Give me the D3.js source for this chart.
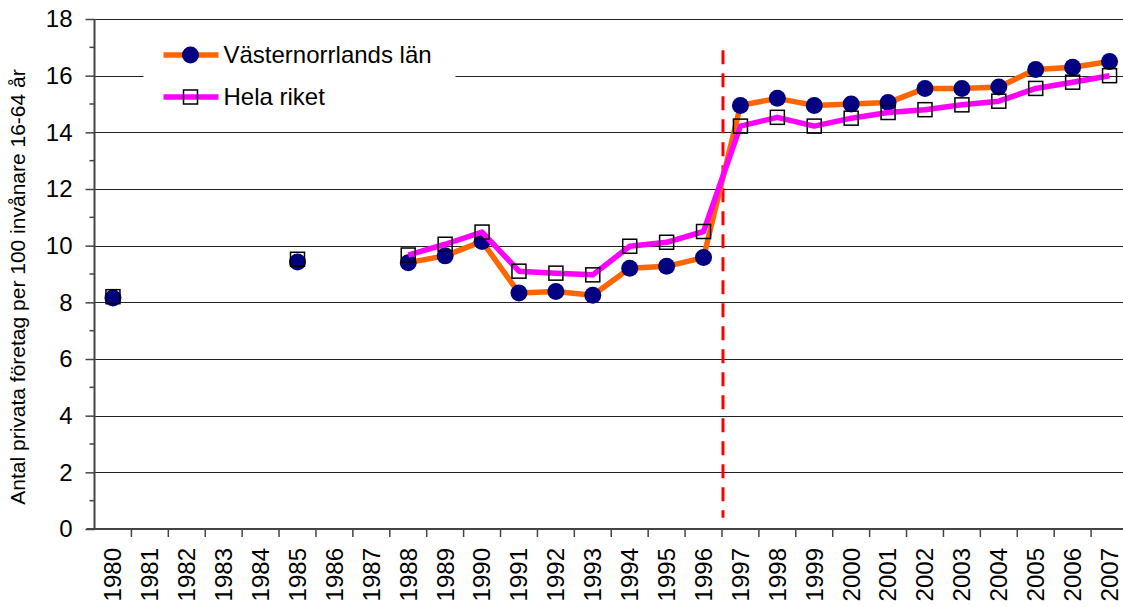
<!DOCTYPE html>
<html>
<head>
<meta charset="utf-8">
<script src="https://cdn.jsdelivr.net/npm/d3@7"></script>
<style>
  body { margin: 0; background: #fff; overflow: hidden; }
  text { font-family: Arial, "Liberation Sans", sans-serif; fill: #000; }
</style>
</head>
<body>
<div id="wrapper"></div>
<script>
// data
const years = ["1980","1981","1982","1983","1984","1985","1986","1987","1988","1989",
  "1990","1991","1992","1993","1994","1995","1996","1997","1998","1999",
  "2000","2001","2002","2003","2004","2005","2006","2007"]

const vasternorrland = [8.15, null, null, null, null, 9.42, null, null, 9.4, 9.64,
  10.15, 8.33, 8.38, 8.25, 9.2, 9.27, 9.58, 14.95, 15.2, 14.95,
  15.0, 15.05, 15.55, 15.55, 15.6, 16.22, 16.3, 16.5]

const helaRiket = [8.2, null, null, null, null, 9.52, null, null, 9.67, 10.05,
  10.48, 9.1, 9.03, 8.97, 9.98, 10.12, 10.5, 14.22, 14.53, 14.22,
  14.5, 14.7, 14.8, 14.97, 15.1, 15.55, 15.77, 16.0]

const yTicks = [0, 2, 4, 6, 8, 10, 12, 14, 16, 18]
const yMinorTicks = [1, 3, 5, 7, 9, 11, 13, 15, 17]
const seriesNames = ["Västernorrlands län", "Hela riket"]
const yTitle = "Antal privata företag per 100 invånare 16-64 år"
const breakBetween = ["1996", "1997"]
const breakRange = [0.4, 16.9]

// dimensions
// the plot area runs a little past the right edge of the picture (cropped)
let dimensions = {
  width: 1123,
  height: 607,
  margin: { top: 19, right: -5, bottom: 78, left: 94.5 },
}
dimensions.boundedWidth = dimensions.width - dimensions.margin.left - dimensions.margin.right
dimensions.boundedHeight = dimensions.height - dimensions.margin.top - dimensions.margin.bottom

const wrapper = d3.select("#wrapper")
  .append("svg")
    .attr("width", dimensions.width)
    .attr("height", dimensions.height)

const bounds = wrapper.append("g")
    .attr("transform", `translate(${dimensions.margin.left},${dimensions.margin.top})`)

// scales
const xScale = d3.scaleBand()
  .domain(years)
  .range([0, dimensions.boundedWidth])
  .padding(0)

const yScale = d3.scaleLinear()
  .domain([0, 18])
  .range([dimensions.boundedHeight, 0])

const xCenter = i => xScale(years[i]) + xScale.bandwidth() / 2

// gridlines
bounds.append("g")
  .selectAll("line")
  .data(yTicks.filter(d => d > 0))
  .join("line")
    .attr("x1", 0)
    .attr("x2", dimensions.boundedWidth)
    .attr("y1", d => Math.round(yScale(d)) + 0.5)
    .attr("y2", d => Math.round(yScale(d)) + 0.5)
    .attr("stroke", "#222")
    .attr("stroke-width", 1)

// legend background (covers gridline)
const legend = bounds.append("g")
legend.append("rect")
  .attr("x", 49)
  .attr("y", 14)
  .attr("width", 312)
  .attr("height", 90)
  .attr("fill", "#fff")

// break line
bounds.append("line")
  .attr("x1", xScale(breakBetween[1]) + 1)
  .attr("x2", xScale(breakBetween[1]) + 1)
  .attr("y1", yScale(breakRange[1]))
  .attr("y2", yScale(breakRange[0]))
  .attr("stroke", "#ff0000")
  .attr("stroke-width", 3)
  .attr("stroke-dasharray", "14,9")

// series
const lineGen = values => d3.line()
  .defined(d => d != null)
  .x((d, i) => xCenter(i))
  .y(d => yScale(d))(values)

// only connect runs where neighbours exist
const connected = values => values.map((d, i) =>
  (d != null && (values[i - 1] != null || values[i + 1] != null)) ? d : null)

bounds.append("path")
  .attr("d", lineGen(connected(vasternorrland)))
  .attr("fill", "none")
  .attr("stroke", "#ff6600")
  .attr("stroke-width", 5.5)
  .attr("stroke-linejoin", "round")

bounds.append("g")
  .selectAll("circle")
  .data(vasternorrland.map((d, i) => ({ v: d, i })).filter(d => d.v != null))
  .join("circle")
    .attr("cx", d => xCenter(d.i))
    .attr("cy", d => yScale(d.v))
    .attr("r", 8.5)
    .attr("fill", "#000080")

bounds.append("path")
  .attr("d", lineGen(connected(helaRiket)))
  .attr("fill", "none")
  .attr("stroke", "#ff00ff")
  .attr("stroke-width", 5.5)
  .attr("stroke-linejoin", "round")

bounds.append("g")
  .selectAll("rect")
  .data(helaRiket.map((d, i) => ({ v: d, i })).filter(d => d.v != null))
  .join("rect")
    .attr("x", d => xCenter(d.i) - 7)
    .attr("y", d => yScale(d.v) - 7)
    .attr("width", 14)
    .attr("height", 14)
    .attr("fill", "none")
    .attr("stroke", "#000")
    .attr("stroke-width", 1.5)

// axes
const yAxisGenerator = d3.axisLeft(yScale)
  .tickValues(yTicks)
  .tickSize(9)
  .tickPadding(13)

const yAxis = bounds.append("g")
  .call(yAxisGenerator)
yAxis.select(".domain").remove()
yAxis.selectAll(".tick line").attr("stroke", "#444").attr("stroke-width", 1.5)
yAxis.selectAll("text").style("font-size", "24px")

bounds.append("g")
  .selectAll("line")
  .data(yMinorTicks)
  .join("line")
    .attr("x1", -5)
    .attr("x2", 0)
    .attr("y1", d => yScale(d))
    .attr("y2", d => yScale(d))
    .attr("stroke", "#444")
    .attr("stroke-width", 1.5)

bounds.append("line")
  .attr("x1", 0).attr("x2", 0)
  .attr("y1", 0).attr("y2", dimensions.boundedHeight)
  .attr("stroke", "#444").attr("stroke-width", 2)

// x axis: ticks at category boundaries
const xAxis = bounds.append("g")
  .attr("transform", `translate(0,${dimensions.boundedHeight})`)

xAxis.append("line")
  .attr("x1", -8).attr("x2", dimensions.boundedWidth)
  .attr("stroke", "#444").attr("stroke-width", 2)

xAxis.selectAll(".xtick")
  .data(years.slice(1))
  .join("line")
    .attr("class", "xtick")
    .attr("x1", d => xScale(d)).attr("x2", d => xScale(d))
    .attr("y1", 0).attr("y2", 8)
    .attr("stroke", "#444").attr("stroke-width", 1.5)

xAxis.selectAll(".xlabel")
  .data(years)
  .join("text")
    .attr("class", "xlabel")
    .attr("transform", d => `translate(${xScale(d) + xScale.bandwidth() / 2},19) rotate(-90)`)
    .attr("text-anchor", "end")
    .attr("dy", "0.35em")
    .style("font-size", "24px")
    .text(d => d)

// y axis title
bounds.append("text")
  .attr("transform", `translate(${-dimensions.margin.left + 25},${dimensions.boundedHeight / 2 + 13}) rotate(-90)`)
  .attr("text-anchor", "middle")
  .style("font-size", "21px")
  .text(yTitle)

// legend
const legendItems = [
  { name: seriesNames[0], color: "#ff6600", marker: "circle", y: 36 },
  { name: seriesNames[1], color: "#ff00ff", marker: "square", y: 78 },
]
legendItems.forEach(item => {
  const g = legend.append("g").attr("transform", `translate(0,${item.y})`)
  g.append("line")
    .attr("x1", 69).attr("x2", 124)
    .attr("stroke", item.color).attr("stroke-width", 5.5)
  if (item.marker === "circle") {
    g.append("circle").attr("cx", 96).attr("r", 8.5).attr("fill", "#000080")
  } else {
    g.append("rect").attr("x", 89).attr("y", -7).attr("width", 14).attr("height", 14)
      .attr("fill", "none").attr("stroke", "#000").attr("stroke-width", 1.5)
  }
  g.append("text")
    .attr("x", 129)
    .attr("dy", "0.35em")
    .style("font-size", "24px")
    .text(item.name)
})
</script>
</body>
</html>
